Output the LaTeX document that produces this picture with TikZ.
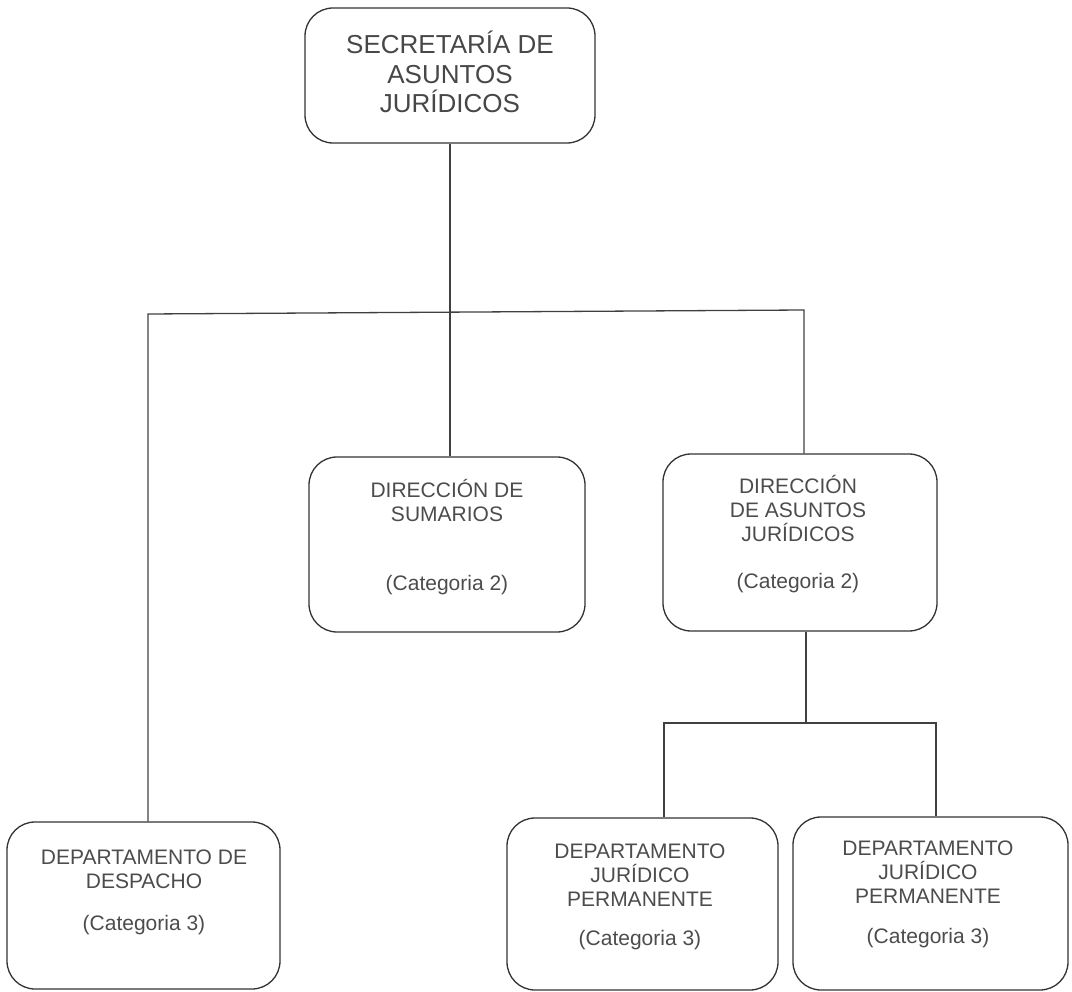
\documentclass[tikz,border=0pt]{standalone}
\usepackage{fontspec}
\setmainfont{Liberation Sans}
\begin{document}
\begin{tikzpicture}[x=1pt,y=-1pt,
  box/.style={draw=black!80, line width=1.3pt, rounded corners=28pt, inner sep=0pt},
  conn/.style={draw=black!75, line width=1.3pt},
  toptxt/.style={text=black!72, align=center, font=\fontsize{26}{29.5}\selectfont},
  txt/.style={text=black!70, align=center, font=\fontsize{21}{24}\selectfont}]
\useasboundingbox (0,0) rectangle (1072,992);
% boxes
\node[box, minimum width=290pt, minimum height=135pt] (sec) at (450,75.5) {};
\node[box, minimum width=276pt, minimum height=175pt] (sum) at (447,544.5) {};
\node[box, minimum width=274pt, minimum height=177pt] (dir) at (800,542.5) {};
\node[box, minimum width=273pt, minimum height=167pt] (desp) at (143.5,905.5) {};
\node[box, minimum width=271pt, minimum height=172pt] (dja) at (642.5,904) {};
\node[box, minimum width=275pt, minimum height=173pt] (djb) at (930.5,903.5) {};
% texts
\node[toptxt] (secT) at (450,72) {SECRETARÍA DE\\ASUNTOS\\JURÍDICOS};
\node[txt] (sumT) at (447,500) {DIRECCIÓN DE\\SUMARIOS};
\node[txt] (sumC) at (447,585) {(Categoria 2)};
\node[txt] (dirT) at (798,508) {DIRECCIÓN\\DE ASUNTOS\\JURÍDICOS};
\node[txt] (dirC) at (798,583) {(Categoria 2)};
\node[txt] (despT) at (144,869) {DEPARTAMENTO DE\\DESPACHO};
\node[txt] (despC) at (144,925) {(Categoria 3)};
\node[txt] (djaT) at (640,875.5) {DEPARTAMENTO\\JURÍDICO\\PERMANENTE};
\node[txt] (djaC) at (640,940) {(Categoria 3)};
\node[txt] (djbT) at (928,872.5) {DEPARTAMENTO\\JURÍDICO\\PERMANENTE};
\node[txt] (djbC) at (928,938) {(Categoria 3)};
% connector coordinates
\coordinate (hL) at (148,314);
\coordinate (hR) at (804,310);
\coordinate (jM) at (806,723);
\coordinate (jL) at (664,723);
\coordinate (jR) at (936,723);
% connectors
\draw[conn] (sec.south) -- (sec.south |- sum.north);
\draw[conn] (hL |- desp.north) -- (hL) -- (hR) -- (hR |- dir.north);
\draw[conn] (jM |- dir.south) -- (jM);
\draw[conn] (jL |- dja.north) -- (jL) -- (jR) -- (jR |- djb.north);
\end{tikzpicture}
\end{document}
